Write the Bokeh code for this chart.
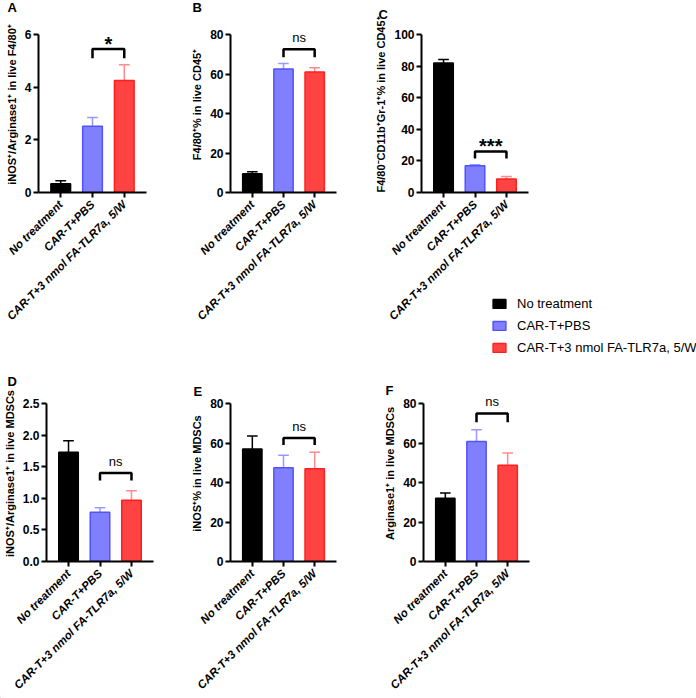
import math
from bokeh.plotting import figure
from bokeh.models import (ColumnDataSource, Range1d, FixedTicker, PrintfTickFormatter,
                          Legend, LegendItem, Label, GridBox)
from bokeh.layouts import column, row
from bokeh.core.properties import value
from bokeh.embed import file_html
from bokeh.resources import INLINE

# ---------------- data ----------------
categories = ["No treatment", "CAR-T+PBS", "CAR-T+3 nmol FA-TLR7a, 5/W"]
cat_pos = [1, 2, 3]

a_mean = [0.33, 2.52, 4.25]
a_err = [0.12, 0.33, 0.60]
b_mean = [9.5, 62.5, 61.0]
b_err = [1.0, 2.8, 2.2]
c_mean = [82.0, 17.0, 8.5]
c_err = [2.2, 0.6, 1.6]
d_mean = [1.73, 0.78, 0.97]
d_err = [0.18, 0.07, 0.15]
e_mean = [57.0, 47.5, 47.0]
e_err = [6.5, 6.3, 8.3]
f_mean = [32.0, 60.7, 48.7]
f_err = [2.7, 6.0, 6.2]

a_ticks = [0, 2, 4, 6]
b_ticks = [0, 20, 40, 60, 80]
c_ticks = [0, 20, 40, 60, 80, 100]
d_ticks = [0, 0.5, 1.0, 1.5, 2.0, 2.5]
e_ticks = [0, 20, 40, 60, 80]
f_ticks = [0, 20, 40, 60, 80]

# significance: label, bracket top, bracket leg end
a_sig = ("*", 5.45, 5.1)
b_sig = ("ns", 72.5, 68.5)
c_sig = ("***", 26.0, 21.5)
d_sig = ("ns", 1.40, 1.28)
e_sig = ("ns", 62.5, 59.0)
f_sig = ("ns", 75.0, 70.5)

panel_letters = ["A", "B", "C", "D", "E", "F"]

fill_colors = ["#000000", "#8080ff", "#ff4343"]
line_colors = ["#000000", "#5252ff", "#ff1f1f"]
err_colors = ["#000000", "#9999ff", "#ff8c8c"]

FONT = "Liberation Sans"
FW, FH = 108, 158
EXT = 18
PAGE_W, PAGE_H = 696, 698


def panel(ylabel, ymax, ticks, means, errs, sig, fmt, L, R, T, B):
    top_val = ymax * (FH + EXT) / FH
    p = figure(width=L + FW + R, height=T + FH + B,
               x_range=Range1d(0.3, 3.7), y_range=Range1d(0, top_val),
               output_backend="svg", toolbar_location=None, tools="",
               min_border_left=L, min_border_right=R,
               min_border_top=T - EXT, min_border_bottom=B)
    p.outline_line_color = None
    p.grid.visible = False
    p.background_fill_color = "white"
    p.border_fill_color = "white"

    ups = [m + e for m, e in zip(means, errs)]
    src = ColumnDataSource(dict(
        x=cat_pos, top=means, up=ups,
        cl=[x - 0.17 for x in cat_pos], cr=[x + 0.17 for x in cat_pos],
        fill=fill_colors, line=line_colors, err=err_colors))
    p.segment(x0="x", y0="top", x1="x", y1="up", line_color="err",
              line_width=1.5, source=src)
    p.segment(x0="cl", y0="up", x1="cr", y1="up", line_color="err",
              line_width=1.5, source=src)
    p.vbar(x="x", top="top", bottom=0, width=0.62, fill_color="fill",
           line_color="line", line_width=1.5, source=src)

    txt, top, leg = sig
    p.line(x=[cat_pos[1], cat_pos[1], cat_pos[2], cat_pos[2]],
           y=[leg, top, top, leg], line_color="black", line_width=2.5)
    mid = (cat_pos[1] + cat_pos[2]) / 2
    if "*" in txt:
        p.text(x=[mid], y=[top], text=[txt], text_align="center",
               text_baseline="bottom", y_offset=6, text_font=value(FONT),
               text_font_size="20px", text_font_style="bold", text_color="black")
    else:
        p.text(x=[mid], y=[top], text=[txt], text_align="center",
               text_baseline="bottom", y_offset=-4, text_font=value(FONT),
               text_font_size="13px", text_color="black")

    xa = p.xaxis[0]
    xa.ticker = FixedTicker(ticks=cat_pos)
    xa.major_label_overrides = {k: v for k, v in zip(cat_pos, categories)}
    xa.major_label_orientation = math.pi / 4
    xa.major_label_text_font = FONT
    xa.major_label_text_font_style = "bold italic"
    xa.major_label_text_font_size = "11.5px"
    xa.major_label_text_color = "black"
    xa.axis_line_width = 2
    xa.axis_line_color = "black"
    xa.major_tick_line_width = 2
    xa.major_tick_line_color = "black"
    xa.major_tick_out = 5
    xa.major_tick_in = 0
    xa.minor_tick_line_color = None
    xa.major_label_standoff = 5

    ya = p.yaxis[0]
    ya.bounds = (0, ymax)
    ya.ticker = FixedTicker(ticks=ticks)
    ya.formatter = PrintfTickFormatter(format=fmt)
    ya.axis_label = ylabel
    ya.axis_label_text_font = FONT
    ya.axis_label_text_font_style = "bold"
    ya.axis_label_text_font_size = "11px"
    ya.axis_label_text_color = "black"
    ya.axis_label_standoff = 4
    ya.major_label_text_font = FONT
    ya.major_label_text_font_style = "bold"
    ya.major_label_text_font_size = "12px"
    ya.major_label_text_color = "black"
    ya.major_label_standoff = 2
    ya.axis_line_width = 2
    ya.axis_line_color = "black"
    ya.major_tick_line_width = 2
    ya.major_tick_line_color = "black"
    ya.major_tick_out = 5
    ya.major_tick_in = 0
    ya.minor_tick_line_color = None
    return p


pa = panel("iNOS\u207a/Arginase1\u207a in live F4/80\u207a", 6,
           a_ticks, a_mean, a_err, a_sig, "%d", 38, 42, 34, 170)
pb = panel("F4/80\u207a% in live CD45\u207a", 80,
           b_ticks, b_mean, b_err, b_sig, "%d", 40, 36, 34, 170)
pc = panel("F4/80\u207bCD11b\u207aGr-1\u207a% in live CD45\u207a", 100,
           c_ticks, c_mean, c_err, c_sig, "%d", 48, 100, 34, 170)
pd = panel("iNOS\u207a/Arginase1\u207a in live MDSCs", 2.5,
           d_ticks, d_mean, d_err, d_sig, "%.1f", 45, 35, 41, 137)
pe = panel("iNOS\u207a% in live MDSCs", 80,
           e_ticks, e_mean, e_err, e_sig, "%d", 40, 45, 41, 137)
pf = panel("Arginase1\u207a in live MDSCs", 80,
           f_ticks, f_mean, f_err, f_sig, "%d", 40, 100, 41, 137)

main = column(row(pa, pb, pc), row(pd, pe, pf))

# transparent overlay holding panel letters and the shared legend
ov = figure(width=PAGE_W, height=PAGE_H, x_range=Range1d(10, 20),
            y_range=Range1d(10, 20), x_axis_location=None, y_axis_location=None,
            output_backend="svg", toolbar_location=None, tools="", min_border=0)
ov.background_fill_alpha = 0
ov.border_fill_alpha = 0
ov.outline_line_color = None
ov.grid.visible = False

letter_xy = [(7, 691), (192, 691), (378, 684), (7, 317), (193, 307), (385, 308)]
for t, (lx, ly) in zip(panel_letters, letter_xy):
    ov.add_layout(Label(x=lx, y=ly, x_units="screen", y_units="screen", text=t,
                        text_font=FONT, text_font_style="bold",
                        text_font_size="13px", text_baseline="middle",
                        text_color="black"))

lsrc = ColumnDataSource(dict(x=cat_pos, top=[1, 1, 1], fill=fill_colors, line=line_colors))
lbars = ov.vbar(x="x", top="top", bottom=0, width=0.5, fill_color="fill",
                line_color="line", line_width=1.5, source=lsrc)
legend = Legend(items=[LegendItem(label=categories[i], renderers=[lbars], index=i)
                       for i in range(3)],
                location=(491, 341), orientation="vertical",
                border_line_color=None, background_fill_alpha=0,
                padding=0, margin=0, spacing=2,
                glyph_width=16, glyph_height=11, label_height=20,
                label_standoff=10, label_text_font=FONT,
                label_text_font_size="13px", label_text_color="black")
ov.add_layout(legend)

layout = GridBox(children=[(main, 0, 0), (ov, 0, 0)])

html = file_html(layout, INLINE)
open("out.html", "w").write(html)
